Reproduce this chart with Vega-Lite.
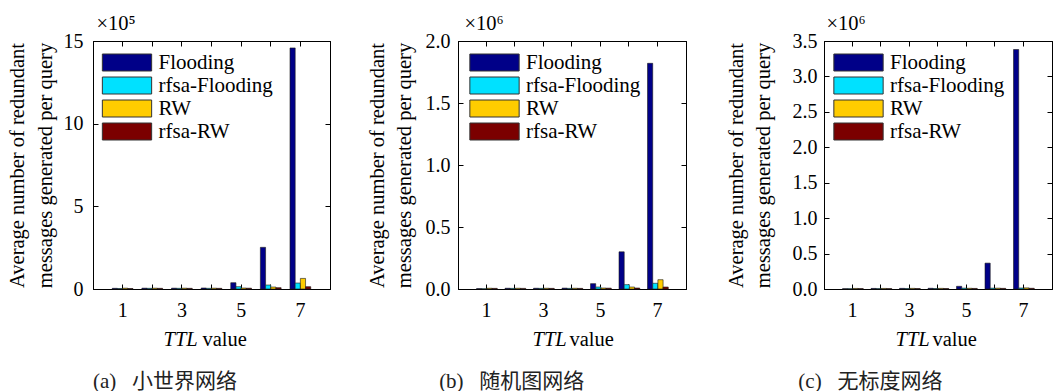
{
  "$schema": "https://vega.github.io/schema/vega-lite/v6.json",
  "background": "white",
  "padding": {"left": 6, "top": 12, "right": 2, "bottom": 0},
  "config": {
    "font": "Liberation Serif",
    "view": {"stroke": "black", "strokeWidth": 1},
    "axis": {
      "grid": false,
      "labelFont": "Liberation Serif",
      "labelFontSize": 20,
      "labelColor": "black",
      "titleFont": "Liberation Serif",
      "titleFontSize": 20.5,
      "titleFontWeight": "normal",
      "titleColor": "black",
      "domainColor": "black",
      "tickColor": "black",
      "tickSize": -5
    },
    "legend": {
      "orient": "none",
      "title": null,
      "padding": 0,
      "labelFont": "Liberation Serif",
      "labelFontSize": 21,
      "labelColor": "black",
      "symbolType": "M-2.9,-1H2.9V1H-2.9Z",
      "symbolSize": 289,
      "symbolStrokeColor": "#333333",
      "symbolStrokeWidth": 1,
      "symbolOpacity": 1,
      "labelOffset": 21,
      "rowPadding": 1
    },
    "title": {
      "font": "'Liberation Serif', 'Noto Sans CJK SC'",
      "fontSize": 21,
      "fontWeight": "normal",
      "color": "#222222",
      "orient": "bottom",
      "anchor": "middle",
      "frame": "bounds",
      "offset": 21
    }
  },
  "datasets": {
    "a": [
      {"ttl": 1, "method": "Flooding", "v": 4000}, {"ttl": 1, "method": "rfsa-Flooding", "v": 3000}, {"ttl": 1, "method": "RW", "v": 5000}, {"ttl": 1, "method": "rfsa-RW", "v": 3000},
      {"ttl": 2, "method": "Flooding", "v": 5000}, {"ttl": 2, "method": "rfsa-Flooding", "v": 4000}, {"ttl": 2, "method": "RW", "v": 5000}, {"ttl": 2, "method": "rfsa-RW", "v": 4000},
      {"ttl": 3, "method": "Flooding", "v": 5000}, {"ttl": 3, "method": "rfsa-Flooding", "v": 4000}, {"ttl": 3, "method": "RW", "v": 5000}, {"ttl": 3, "method": "rfsa-RW", "v": 4000},
      {"ttl": 4, "method": "Flooding", "v": 6000}, {"ttl": 4, "method": "rfsa-Flooding", "v": 4000}, {"ttl": 4, "method": "RW", "v": 5000}, {"ttl": 4, "method": "rfsa-RW", "v": 4000},
      {"ttl": 5, "method": "Flooding", "v": 38000}, {"ttl": 5, "method": "rfsa-Flooding", "v": 14000}, {"ttl": 5, "method": "RW", "v": 6000}, {"ttl": 5, "method": "rfsa-RW", "v": 5000},
      {"ttl": 6, "method": "Flooding", "v": 252000}, {"ttl": 6, "method": "rfsa-Flooding", "v": 24000}, {"ttl": 6, "method": "RW", "v": 12000}, {"ttl": 6, "method": "rfsa-RW", "v": 8000},
      {"ttl": 7, "method": "Flooding", "v": 1458000}, {"ttl": 7, "method": "rfsa-Flooding", "v": 36000}, {"ttl": 7, "method": "RW", "v": 64000}, {"ttl": 7, "method": "rfsa-RW", "v": 14000}
    ],
    "b": [
      {"ttl": 1, "method": "Flooding", "v": 3000}, {"ttl": 1, "method": "rfsa-Flooding", "v": 2000}, {"ttl": 1, "method": "RW", "v": 6000}, {"ttl": 1, "method": "rfsa-RW", "v": 5000},
      {"ttl": 2, "method": "Flooding", "v": 6000}, {"ttl": 2, "method": "rfsa-Flooding", "v": 5000}, {"ttl": 2, "method": "RW", "v": 6000}, {"ttl": 2, "method": "rfsa-RW", "v": 5000},
      {"ttl": 3, "method": "Flooding", "v": 6000}, {"ttl": 3, "method": "rfsa-Flooding", "v": 5000}, {"ttl": 3, "method": "RW", "v": 6000}, {"ttl": 3, "method": "rfsa-RW", "v": 5000},
      {"ttl": 4, "method": "Flooding", "v": 7000}, {"ttl": 4, "method": "rfsa-Flooding", "v": 5000}, {"ttl": 4, "method": "RW", "v": 6000}, {"ttl": 4, "method": "rfsa-RW", "v": 5000},
      {"ttl": 5, "method": "Flooding", "v": 43000}, {"ttl": 5, "method": "rfsa-Flooding", "v": 16000}, {"ttl": 5, "method": "RW", "v": 8000}, {"ttl": 5, "method": "rfsa-RW", "v": 7000},
      {"ttl": 6, "method": "Flooding", "v": 300000}, {"ttl": 6, "method": "rfsa-Flooding", "v": 35000}, {"ttl": 6, "method": "RW", "v": 16000}, {"ttl": 6, "method": "rfsa-RW", "v": 8000},
      {"ttl": 7, "method": "Flooding", "v": 1820000}, {"ttl": 7, "method": "rfsa-Flooding", "v": 46000}, {"ttl": 7, "method": "RW", "v": 75000}, {"ttl": 7, "method": "rfsa-RW", "v": 16000}
    ],
    "c": [
      {"ttl": 1, "method": "Flooding", "v": 5000}, {"ttl": 1, "method": "rfsa-Flooding", "v": 4000}, {"ttl": 1, "method": "RW", "v": 8000}, {"ttl": 1, "method": "rfsa-RW", "v": 6000},
      {"ttl": 2, "method": "Flooding", "v": 8000}, {"ttl": 2, "method": "rfsa-Flooding", "v": 6000}, {"ttl": 2, "method": "RW", "v": 8000}, {"ttl": 2, "method": "rfsa-RW", "v": 6000},
      {"ttl": 3, "method": "Flooding", "v": 9000}, {"ttl": 3, "method": "rfsa-Flooding", "v": 7000}, {"ttl": 3, "method": "RW", "v": 9000}, {"ttl": 3, "method": "rfsa-RW", "v": 7000},
      {"ttl": 4, "method": "Flooding", "v": 10000}, {"ttl": 4, "method": "rfsa-Flooding", "v": 7000}, {"ttl": 4, "method": "RW", "v": 9000}, {"ttl": 4, "method": "rfsa-RW", "v": 7000},
      {"ttl": 5, "method": "Flooding", "v": 38000}, {"ttl": 5, "method": "rfsa-Flooding", "v": 12000}, {"ttl": 5, "method": "RW", "v": 10000}, {"ttl": 5, "method": "rfsa-RW", "v": 8000},
      {"ttl": 6, "method": "Flooding", "v": 365000}, {"ttl": 6, "method": "rfsa-Flooding", "v": 12000}, {"ttl": 6, "method": "RW", "v": 12000}, {"ttl": 6, "method": "rfsa-RW", "v": 9000},
      {"ttl": 7, "method": "Flooding", "v": 3380000}, {"ttl": 7, "method": "rfsa-Flooding", "v": 14000}, {"ttl": 7, "method": "RW", "v": 16000}, {"ttl": 7, "method": "rfsa-RW", "v": 10000}
    ]
  },
  "resolve": {"scale": {"color": "independent"}, "legend": {"color": "independent"}},
  "spacing": 38,
  "hconcat": [
    {
      "resolve": {"scale": {"color": "independent"}, "legend": {"color": "independent"}},
      "spacing": 35,
      "hconcat": [
        {
          "width": 237,
          "height": 248,
          "title": {"text": "(a)\u00a0\u00a0\u00a0小世界网络", "dx": -4},
          "data": {"name": "a"},
          "resolve": {"axis": {"x": "independent", "y": "independent"}},
          "layer": [
            {
              "mark": {"type": "bar", "stroke": "#1a1a1a", "strokeWidth": 0.6},
              "encoding": {
                "x": {"field": "ttl", "type": "ordinal", "scale": {"paddingInner": 0.3, "paddingOuter": 0.65},
                  "axis": {"orient": "bottom", "labelAngle": 0, "labelPadding": 16, "labelExpr": "datum.value % 2 == 1 ? datum.label : ''",
                    "title": "TTL", "titleFontStyle": "italic", "titleX": 70, "titleY": 56, "titleAlign": "left", "titleBaseline": "alphabetic"}},
                "xOffset": {"field": "method", "type": "nominal", "scale": {"domain": ["Flooding", "rfsa-Flooding", "RW", "rfsa-RW"], "paddingInner": 0, "paddingOuter": 0}},
                "y": {"field": "v", "type": "quantitative", "scale": {"domain": [0, 1500000], "nice": false},
                  "axis": {"orient": "left", "values": [0, 500000, 1000000, 1500000], "labelExpr": "'' + datum.value / 100000", "labelPadding": 15,
                    "title": ["Average number of redundant", "messages generated per query"], "titleX": -75.5, "titleY": 124, "titleAngle": 270, "titleAlign": "center", "titleBaseline": "middle", "titleLineHeight": 28}},
                "color": {"field": "method", "type": "nominal",
                  "scale": {"domain": ["Flooding", "rfsa-Flooding", "RW", "rfsa-RW"], "range": ["#000088", "#00E1FF", "#FFCC00", "#7B0000"]},
                  "legend": {"legendX": 23.5, "legendY": 11}}
              }
            },
            {
              "mark": {"type": "bar", "opacity": 0},
              "encoding": {
                "x": {"field": "ttl", "type": "ordinal",
                  "axis": {"orient": "top", "labels": false, "title": "×10⁵", "titleX": 3, "titleY": -12, "titleAlign": "left", "titleBaseline": "alphabetic", "titleAngle": 0}},
                "y": {"field": "v", "type": "quantitative",
                  "axis": {"orient": "right", "labels": false, "values": [0, 500000, 1000000, 1500000], "title": null}}
              }
            },
            {
              "mark": {"type": "bar", "opacity": 0},
              "encoding": {
                "x": {"field": "ttl", "type": "ordinal",
                  "axis": {"orient": "bottom", "labels": false, "ticks": false, "domain": false, "title": "value", "titleX": 109, "titleY": 56, "titleAlign": "left", "titleBaseline": "alphabetic"}},
                "y": {"field": "v", "type": "quantitative", "axis": null}
              }
            }
          ]
        },
        {
          "width": 228,
          "height": 248,
          "title": {"text": "(b)\u00a0\u00a0\u00a0随机图网络", "dx": -15},
          "data": {"name": "b"},
          "resolve": {"axis": {"x": "independent", "y": "independent"}},
          "layer": [
            {
              "mark": {"type": "bar", "stroke": "#1a1a1a", "strokeWidth": 0.6},
              "encoding": {
                "x": {"field": "ttl", "type": "ordinal", "scale": {"paddingInner": 0.3, "paddingOuter": 0.65},
                  "axis": {"orient": "bottom", "labelAngle": 0, "labelPadding": 16, "labelExpr": "datum.value % 2 == 1 ? datum.label : ''",
                    "title": "TTL", "titleFontStyle": "italic", "titleX": 74, "titleY": 56, "titleAlign": "left", "titleBaseline": "alphabetic"}},
                "xOffset": {"field": "method", "type": "nominal", "scale": {"domain": ["Flooding", "rfsa-Flooding", "RW", "rfsa-RW"], "paddingInner": 0, "paddingOuter": 0}},
                "y": {"field": "v", "type": "quantitative", "scale": {"domain": [0, 2000000], "nice": false},
                  "axis": {"orient": "left", "values": [0, 500000, 1000000, 1500000, 2000000], "labelExpr": "format(datum.value / 1000000, '.1f')", "labelPadding": 13,
                    "title": ["Average number of redundant", "messages generated per query"], "titleX": -81, "titleY": 124, "titleAngle": 270, "titleAlign": "center", "titleBaseline": "middle", "titleLineHeight": 27}},
                "color": {"field": "method", "type": "nominal",
                  "scale": {"domain": ["Flooding", "rfsa-Flooding", "RW", "rfsa-RW"], "range": ["#000088", "#00E1FF", "#FFCC00", "#7B0000"]},
                  "legend": {"legendX": 26, "legendY": 11}}
              }
            },
            {
              "mark": {"type": "bar", "opacity": 0},
              "encoding": {
                "x": {"field": "ttl", "type": "ordinal",
                  "axis": {"orient": "top", "labels": false, "title": "×10⁶", "titleX": 6, "titleY": -12, "titleAlign": "left", "titleBaseline": "alphabetic", "titleAngle": 0}},
                "y": {"field": "v", "type": "quantitative",
                  "axis": {"orient": "right", "labels": false, "values": [0, 500000, 1000000, 1500000, 2000000], "title": null}}
              }
            },
            {
              "mark": {"type": "bar", "opacity": 0},
              "encoding": {
                "x": {"field": "ttl", "type": "ordinal",
                  "axis": {"orient": "bottom", "labels": false, "ticks": false, "domain": false, "title": "value", "titleX": 111, "titleY": 56, "titleAlign": "left", "titleBaseline": "alphabetic"}},
                "y": {"field": "v", "type": "quantitative", "axis": null}
              }
            }
          ]
        }
      ]
    },
    {
      "width": 228,
      "height": 248,
      "title": {"text": "(c)\u00a0\u00a0\u00a0无标度网络", "dx": -19},
      "data": {"name": "c"},
      "resolve": {"axis": {"x": "independent", "y": "independent"}},
      "layer": [
        {
          "mark": {"type": "bar", "stroke": "#1a1a1a", "strokeWidth": 0.6},
          "encoding": {
            "x": {"field": "ttl", "type": "ordinal", "scale": {"paddingInner": 0.3, "paddingOuter": 0.65},
              "axis": {"orient": "bottom", "labelAngle": 0, "labelPadding": 16, "labelExpr": "datum.value % 2 == 1 ? datum.label : ''",
                "title": "TTL", "titleFontStyle": "italic", "titleX": 71, "titleY": 56, "titleAlign": "left", "titleBaseline": "alphabetic"}},
            "xOffset": {"field": "method", "type": "nominal", "scale": {"domain": ["Flooding", "rfsa-Flooding", "RW", "rfsa-RW"], "paddingInner": 0, "paddingOuter": 0}},
            "y": {"field": "v", "type": "quantitative", "scale": {"domain": [0, 3500000], "nice": false},
              "axis": {"orient": "left", "values": [0, 500000, 1000000, 1500000, 2000000, 2500000, 3000000, 3500000], "labelExpr": "format(datum.value / 1000000, '.1f')", "labelPadding": 12,
                "title": ["Average number of redundant", "messages generated per query"], "titleX": -87.7, "titleY": 124, "titleAngle": 270, "titleAlign": "center", "titleBaseline": "middle", "titleLineHeight": 27}},
            "color": {"field": "method", "type": "nominal",
              "scale": {"domain": ["Flooding", "rfsa-Flooding", "RW", "rfsa-RW"], "range": ["#000088", "#00E1FF", "#FFCC00", "#7B0000"]},
              "legend": {"legendX": 24, "legendY": 11}}
          }
        },
        {
          "mark": {"type": "bar", "opacity": 0},
          "encoding": {
            "x": {"field": "ttl", "type": "ordinal",
              "axis": {"orient": "top", "labels": false, "title": "×10⁶", "titleX": 2, "titleY": -12, "titleAlign": "left", "titleBaseline": "alphabetic", "titleAngle": 0}},
            "y": {"field": "v", "type": "quantitative",
              "axis": {"orient": "right", "labels": false, "values": [0, 500000, 1000000, 1500000, 2000000, 2500000, 3000000, 3500000], "title": null}}
          }
        },
        {
          "mark": {"type": "bar", "opacity": 0},
          "encoding": {
            "x": {"field": "ttl", "type": "ordinal",
              "axis": {"orient": "bottom", "labels": false, "ticks": false, "domain": false, "title": "value", "titleX": 108, "titleY": 56, "titleAlign": "left", "titleBaseline": "alphabetic"}},
            "y": {"field": "v", "type": "quantitative", "axis": null}
          }
        }
      ]
    }
  ]
}
